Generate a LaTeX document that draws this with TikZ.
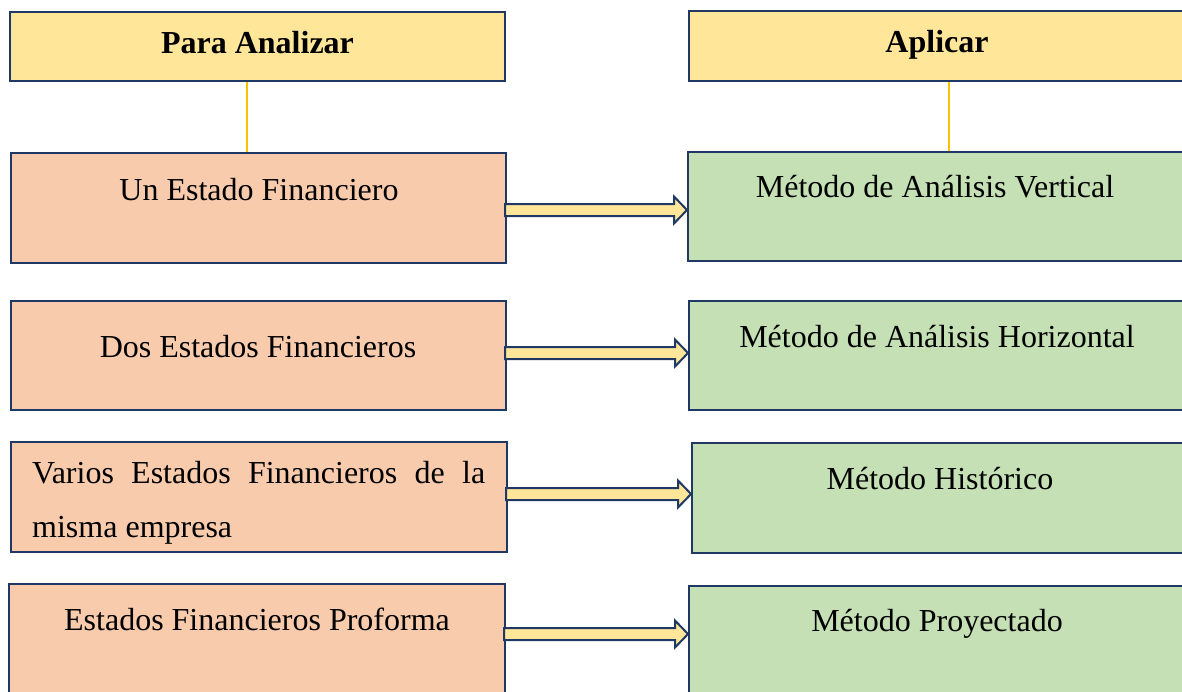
\documentclass[tikz,border=0pt]{standalone}
\usepackage{fontspec}
\setmainfont{Liberation Serif}
\usetikzlibrary{calc}
\definecolor{hdrfill}{HTML}{FFE699}
\definecolor{leftfill}{HTML}{F8CBAD}
\definecolor{rightfill}{HTML}{C5E0B4}
\definecolor{navy}{HTML}{1F3864}
\definecolor{gold}{HTML}{FFC000}
\tikzset{
  box/.style={draw=navy, line width=2pt, inner sep=0pt, rectangle},
  hdrbox/.style={box, fill=hdrfill},
  leftbox/.style={box, fill=leftfill},
  rightbox/.style={box, fill=rightfill},
  txt/.style={inner sep=0pt, anchor=base, font=\fontsize{32}{54}\selectfont},
  hdrtxt/.style={txt, font=\fontsize{32}{54}\selectfont\bfseries},
  conn/.style={draw=gold, line width=1.5pt},
  fatarrow/.style={draw=navy, fill=hdrfill, line width=2pt, line join=miter}
}
\begin{document}
\begin{tikzpicture}[x=1pt,y=-1pt]
\useasboundingbox (0,0) rectangle (1182,691);
\fill[white] (0,0) rectangle (1182,691);
\clip (0,0) rectangle (1182,691);
% headers
\node[hdrbox, minimum width=495pt, minimum height=69pt] (hl) at (257.5,46.5) {};
\node[hdrbox, minimum width=496pt, minimum height=70pt] (hr) at (937,46) {};
\node[hdrtxt] (hlt) at (257.5,53) {Para Analizar};
\node[hdrtxt] (hrt) at (937,52) {Aplicar};
% left boxes
\node[leftbox, minimum width=495pt, minimum height=110pt] (l1) at (258.5,208) {};
\node[leftbox, minimum width=495pt, minimum height=109pt] (l2) at (258.5,355.5) {};
\node[leftbox, minimum width=496pt, minimum height=110pt] (l3) at (259,497) {};
\node[leftbox, minimum width=496pt, minimum height=110pt] (l4) at (257,639) {};
% right boxes
\node[rightbox, minimum width=497pt, minimum height=109pt] (r1) at (936.5,206.5) {};
\node[rightbox, minimum width=496pt, minimum height=109pt] (r2) at (937,355.5) {};
\node[rightbox, minimum width=493pt, minimum height=110pt] (r3) at (938.5,498) {};
\node[rightbox, minimum width=496pt, minimum height=110pt] (r4) at (937,641) {};
% texts
\node[txt] (l1t) at (259,200) {Un Estado Financiero};
\node[txt] (l2t) at (258,357) {Dos Estados Financieros};
\node[txt, anchor=base west, text width=453pt, align=justify] (l3t) at (32,483) {Varios Estados Financieros de la misma empresa};
\node[txt] (l4t) at (257,630) {Estados Financieros Proforma};
\node[txt] (r1t) at (935,197) {Método de Análisis Vertical};
\node[txt] (r2t) at (937,347) {Método de Análisis Horizontal};
\node[txt] (r3t) at (940,489) {Método Histórico};
\node[txt] (r4t) at (937,631) {Método Proyectado};
% connectors header -> first row
\draw[conn] ([xshift=-10.5pt]hl.south) -- ([xshift=-10.5pt]hl.south |- l1.north);
\draw[conn] ([xshift=12pt]hr.south) -- ([xshift=12pt]hr.south |- r1.north);
% fat arrows
\foreach \a/\b/\dy in {l1/r1/-2, l2/r2/2.5, l3/r3/3, l4/r4/5}{
  \draw[fatarrow] let \p1=([yshift=\dy pt]\a.east), \p2=(\b.west) in
    (\x1-2pt,\y1+6pt) -- (\x2-13pt,\y1+6pt) -- (\x2-13pt,\y1+13.5pt) -- (\x2,\y1)
    -- (\x2-13pt,\y1-13.5pt) -- (\x2-13pt,\y1-6pt) -- (\x1-2pt,\y1-6pt) -- cycle;
}
\end{tikzpicture}
\end{document}
